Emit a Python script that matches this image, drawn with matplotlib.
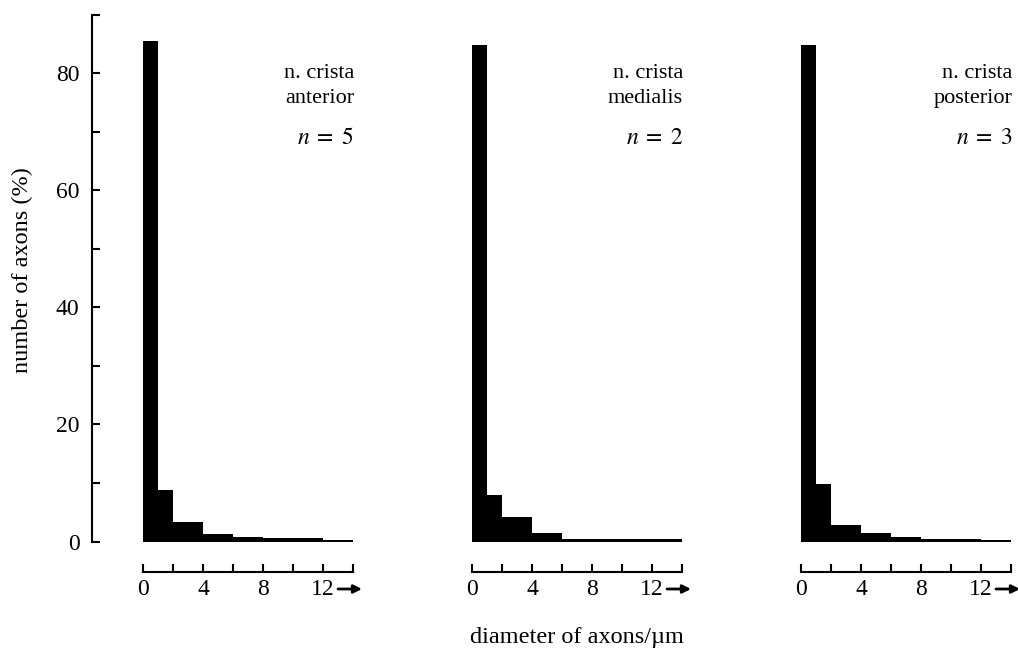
import matplotlib
matplotlib.use("Agg")
import matplotlib.pyplot as plt
from matplotlib.ticker import MultipleLocator

plt.rcParams['font.family'] = ['Liberation Serif', 'DejaVu Serif']
plt.rcParams['mathtext.fontset'] = 'stix'

# bin edges (diameter in um) and percentage of axons per bin
bin_edges = [0, 1, 2, 4, 6, 8, 10, 12, 14]
anterior = [85.5, 8.8, 3.4, 1.3, 0.7, 0.6, 0.6, 0.3]
medialis = [84.8, 7.9, 4.1, 1.5, 0.5, 0.4, 0.4, 0.4]
posterior = [84.8, 9.9, 2.8, 1.5, 0.8, 0.4, 0.4, 0.3]

names = ["n. crista\nanterior", "n. crista\nmedialis", "n. crista\nposterior"]
counts = [5, 2, 3]
series = [anterior, medialis, posterior]

W, H = 1018, 661
fig = plt.figure(figsize=(W / 100, H / 100), dpi=100)

y0_px, y90_px = 541.5, 14.5
lefts_px = [143, 472, 801]
width_px = 210
ax_h = y0_px - y90_px

for i, (vals, name, n) in enumerate(zip(series, names, counts)):
    ax = fig.add_axes([lefts_px[i] / W, 1 - y0_px / H, width_px / W, ax_h / H])
    ax.stairs(vals, bin_edges, fill=True, color='black')
    ax.set_xlim(0, 14)
    ax.set_ylim(0, 90)

    # bottom axis detached below the bars
    for s in ['top', 'right']:
        ax.spines[s].set_visible(False)
    ax.spines['bottom'].set_position(('outward', 22))
    ax.spines['bottom'].set_linewidth(1.5)
    ax.set_xticks([0, 4, 8, 12])
    ax.xaxis.set_minor_locator(MultipleLocator(2))
    ax.tick_params(axis='x', which='both', direction='in', length=6, width=1.5, labelsize=17, pad=5)
    arrow_y = (y0_px - 589) / ax_h
    ax.annotate('', xy=(14.6, arrow_y), xytext=(13.0, arrow_y), xycoords=('data', 'axes fraction'),
                textcoords=('data', 'axes fraction'), annotation_clip=False,
                arrowprops=dict(arrowstyle='-|>', color='black', lw=2, mutation_scale=12,
                                shrinkA=0, shrinkB=0))

    if i == 0:
        ax.spines['left'].set_position(('outward', 36.7))
        ax.spines['left'].set_linewidth(1.5)
        ax.set_yticks([0, 20, 40, 60, 80])
        ax.yaxis.set_minor_locator(MultipleLocator(10))
        ax.tick_params(axis='y', which='both', direction='in', length=6, width=1.5, labelsize=17, pad=9)
    else:
        ax.spines['left'].set_visible(False)
        ax.set_yticks([])
        ax.tick_params(axis='y', which='minor', left=False)

    ax.text(1.005, 0.906, name, transform=ax.transAxes, ha='right', va='top',
            fontsize=16, linespacing=1.4)
    ax.text(1.005, 0.765, r'$n\;=\;%d$' % n, transform=ax.transAxes, ha='right', va='center',
            fontsize=17)

fig.text(22 / W, 1 - 270 / H, 'number of axons (%)', rotation=90, ha='center', va='center', fontsize=17.5)
fig.text(577 / W, 1 - 638 / H, 'diameter of axons/\u00b5m', ha='center', va='center', fontsize=17.5)

fig.savefig('out.png', dpi=100)
